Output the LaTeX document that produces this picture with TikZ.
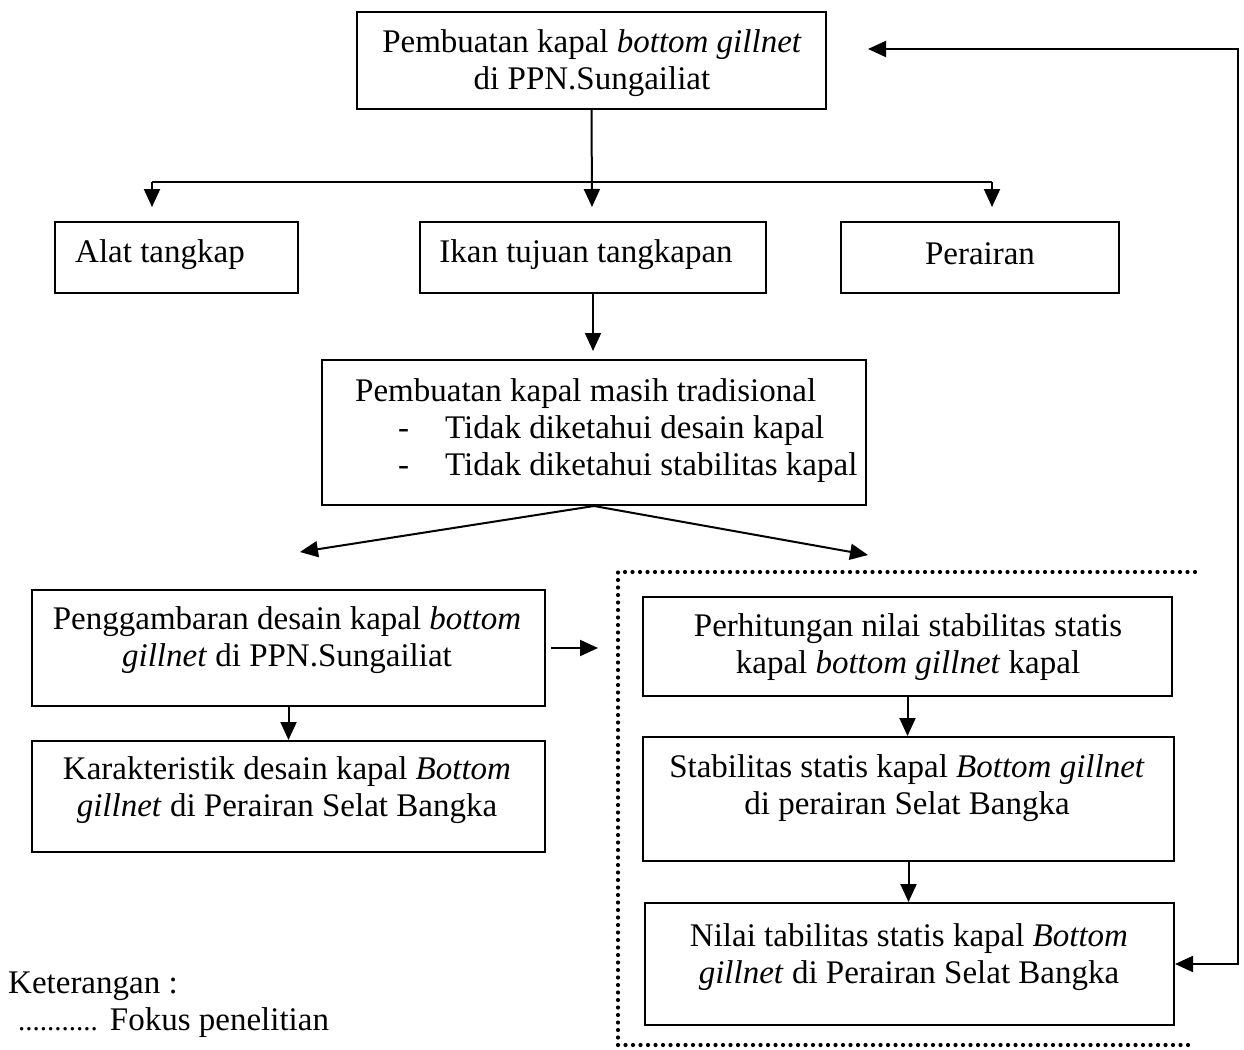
\documentclass[tikz,border=0pt]{standalone}
\usepackage{fontspec}
\setmainfont{Liberation Serif}
\usetikzlibrary{arrows.meta}

\begin{document}
\begin{tikzpicture}[
  x=1pt, y=-1pt,
  font=\fontsize{33}{37}\selectfont,
  kotak/.style={draw=black, line width=2pt, inner sep=0pt},
  teks/.style={align=center, inner sep=0pt},
  panah/.style={-{Triangle[length=18pt,width=16pt]}, line width=2pt},
  panahdua/.style={{Triangle[length=18pt,width=16pt]}-{Triangle[length=18pt,width=16pt]}, line width=2pt},
  fokus/.style={line width=4.2pt, dash pattern=on 0pt off 7.5pt, line cap=round}
  ]

\useasboundingbox (0,0) rectangle (1244,1049);

% kotak-kotak
\node [kotak, minimum width=469pt, minimum height=97pt] (buat) at (591.5,60.5) {};
\node [teks] (buat-t) at (592,63) {Pembuatan kapal \textit{bottom gillnet}\\di PPN.Sungailiat};

\node [kotak, minimum width=243pt, minimum height=71pt] (alat) at (176.5,257.5) {};
\node [teks, anchor=west] (alat-t) at (75,255) {Alat tangkap};

\node [kotak, minimum width=346pt, minimum height=71pt] (ikan) at (593,257.5) {};
\node [teks] (ikan-t) at (586,255) {Ikan tujuan tangkapan};

\node [kotak, minimum width=278pt, minimum height=71pt] (perairan) at (980,257.5) {};
\node [teks] (perairan-t) at (980,254) {Perairan};

\node [kotak, minimum width=544pt, minimum height=145pt] (trad) at (594,432.5) {};
\node [teks, align=left, anchor=west] (trad-t) at (355,431) {Pembuatan kapal masih tradisional\\
  \hspace*{43pt}\makebox[47pt][l]{-}Tidak diketahui desain kapal\\
  \hspace*{43pt}\makebox[47pt][l]{-}Tidak diketahui stabilitas kapal};

\node [kotak, minimum width=513pt, minimum height=116pt] (gambar) at (288.5,648) {};
\node [teks] (gambar-t) at (287,640) {Penggambaran desain kapal \textit{bottom}\\\textit{gillnet} di PPN.Sungailiat};

\node [kotak, minimum width=513pt, minimum height=111pt] (karakter) at (288.5,796.5) {};
\node [teks] (karakter-t) at (287,790) {Karakteristik desain kapal \textit{Bottom}\\\textit{gillnet} di Perairan Selat Bangka};

\node [kotak, minimum width=529pt, minimum height=99pt] (hitung) at (907.5,646.5) {};
\node [teks] (hitung-t) at (908,647) {Perhitungan nilai stabilitas statis\\kapal \textit{bottom gillnet} kapal};

\node [kotak, minimum width=531pt, minimum height=124pt] (stabil) at (908.5,799) {};
\node [teks] (stabil-t) at (907,788) {Stabilitas statis kapal \textit{Bottom gillnet}\\di perairan Selat Bangka};

\node [kotak, minimum width=529pt, minimum height=122pt] (nilai) at (909.5,964) {};
\node [teks] (nilai-t) at (909,957) {Nilai tabilitas statis kapal \textit{Bottom}\\\textit{gillnet} di Perairan Selat Bangka};

% fokus penelitian
\draw [fokus] (1195,572) -- (618,572) -- (618,1045) -- (1195,1045);

% keterangan
\node [teks, anchor=west] (ket) at (8,986) {Keterangan :};
\node [teks, anchor=west] (ket-f) at (18,1023) {{\fontsize{29}{30}\selectfont ...........}\hspace{12pt}Fokus penelitian};

% titik bantu
\coordinate (cabL) at (152,182);
\coordinate (cabR) at (992,182);
\coordinate (tipL) at (152,207);
\coordinate (tipM) at (592,207);
\coordinate (tipR) at (992,207);
\coordinate (kiri) at (300,552);
\coordinate (kanan) at (868,555);
\coordinate (masuk) at (598,648);
\coordinate (sisi) at (1238,49);
\coordinate (kembali) at (868,49);

% panah
\draw [panah] (buat.south) -- (tipM);
\draw [line width=2pt] (cabL) -- (cabR);
\draw [panah] (cabL) -- (tipL);
\draw [panah] (cabR) -- (tipR);
\draw [panah, shorten >=8pt] (ikan.south) -- (ikan.south |- trad.north);
\draw [panah] (trad.south) -- (kiri);
\draw [panah] (trad.south) -- (kanan);
\draw [panah, shorten <=5pt] (gambar.east) -- (masuk);
\draw [panah] (gambar.south) -- (karakter.north);
\draw [panah] (hitung.south) -- (hitung.south |- stabil.north);
\draw [panah] (stabil.south) -- (stabil.south |- nilai.north);
\draw [panahdua] (kembali) -- (sisi) |- (nilai.east);

\end{tikzpicture}
\end{document}
